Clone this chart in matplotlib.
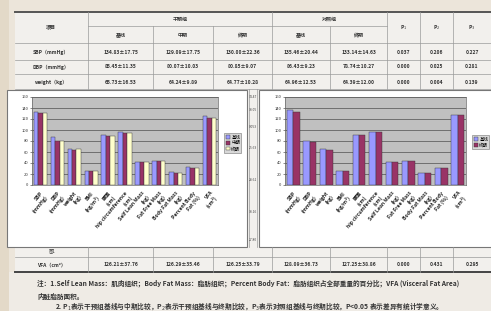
import numpy as np
import matplotlib
matplotlib.use('Agg')
import matplotlib.pyplot as plt
from matplotlib.patches import Rectangle

plt.rcParams['font.family'] = ['Noto Sans CJK SC', 'DejaVu Sans']

W, H = 491, 311

# table contents
col_edges = [15, 88, 153, 213, 272, 330, 387, 420, 453, 491]
groups = ['干预组', '对照组']
sub_heads = ['基线', '中期', '终期', '基线', '终期']
p_heads = ['P$_1$', 'P$_2$', 'P$_3$']
row_names = ['SBP（mmHg）', 'DBP（mmHg）', 'weight（kg）']
row_vals = [
    ['134.83±17.75', '129.09±17.75', '130.00±22.36', '135.46±20.44', '133.14±14.63', '0.037', '0.206', '0.227'],
    ['85.45±11.35', '80.07±10.03', '80.85±9.07', '86.43±9.23', '78.74±10.27', '0.000', '0.025', '0.281'],
    ['65.73±16.53', '64.24±9.89', '64.77±10.28', '64.96±12.53', '64.39±12.00', '0.000', '0.004', '0.139'],
]
vfa_name = 'VFA（cm²）'
vfa_vals = ['126.21±37.76', '126.29±35.46', '126.25±33.79', '128.09±36.73', '127.25±38.86', '0.000', '0.431', '0.295']
mid_nums = ['34.47', '38.05', '0.053', '25.63', '28.61', '38.16', '27.80']

# chart data
cats = ['SBP\n(mmHg)', 'DBP\n(mmHg)', 'weight\n(kg)', 'BMI\n(kg/m²)', '腰围\n(cm)',
        'hip circumference\n(cm)', 'Self Lean Mass\n(kg)', 'Fat Free Mass\n(kg)',
        'Body Fat Mass\n(kg)', 'Percent Body\nFat (%)', 'VFA\n(cm²)']
int_base = [133.5, 86.5, 65.7, 25.6, 91.2, 95.8, 42.5, 44.3, 23.1, 32.2, 126.2]
int_mid = [130.0, 80.1, 64.2, 25.1, 89.5, 94.6, 42.1, 43.9, 22.0, 31.1, 122.3]
int_end = [130.5, 80.9, 64.8, 25.3, 89.9, 94.9, 42.3, 44.1, 22.4, 31.4, 122.6]
ctl_base = [137.0, 80.5, 65.0, 25.8, 91.6, 96.9, 41.2, 44.5, 21.6, 30.8, 128.1]
ctl_end = [133.1, 79.0, 64.4, 25.6, 91.0, 96.5, 41.0, 44.2, 21.2, 30.4, 127.3]

notes = ['注：1.Self Lean Mass：肌肉组织；Body Fat Mass：脂肪组织；Percent Body Fat：脂肪组织占全部重量的百分比；VFA (Visceral Fat Area)',
         '内脏脂肪面积。',
         '2. P$_1$表示干预组基线与中期比较，P$_2$表示干预组基线与终期比较，P$_3$表示对照组基线与终期比较，P<0.05 表示差异有统计学意义。']

c_blue, c_red, c_cream = '#9999ff', '#993366', '#ffffcc'


def rect(x0, y0, x1, y1):
    return [x0 / W, 1 - y1 / H, (x1 - x0) / W, (y1 - y0) / H]


fig = plt.figure(figsize=(W / 100, H / 100), dpi=100)
fig.patch.set_facecolor('#ece5da')

bg = fig.add_axes([0, 0, 1, 1])
bg.set_xlim(0, W)
bg.set_ylim(H, 0)
bg.axis('off')
bg.add_patch(Rectangle((0, 0), 9, H, color='#e3d9c8', lw=0))
bg.add_patch(Rectangle((15, 12), W - 15, 260, color='#f2f0ed', lw=0))
bg.add_patch(Rectangle((9, 272), W - 9, 40, color='#efebe5', lw=0))

lc = '#9a9a9a'
tk = dict(fontsize=3.6, color='#333333', ha='center', va='center', fontweight='bold')
# table frame
bg.plot([15, W], [12, 12], color='#555555', lw=1.4)
bg.plot([88, 387], [26, 26], color=lc, lw=0.5)
for y in [43, 60, 74, 89, 257]:
    bg.plot([15, W], [y, y], color=lc, lw=0.5)
bg.plot([15, W], [272, 272], color='#444444', lw=1.4)
for x in col_edges[1:-1]:
    if x in (153, 213, 330):
        bg.plot([x, x], [26, 89], color=lc, lw=0.5)
    else:
        bg.plot([x, x], [12, 89], color=lc, lw=0.5)
    bg.plot([x, x], [247, 272], color=lc, lw=0.5)
bg.plot([249, 249], [89, 247], color=lc, lw=0.5)
bg.plot([257, 257], [89, 247], color=lc, lw=0.5)

bg.text(51, 27, '项目', **tk)
bg.text((88 + 272) / 2, 19, groups[0], **tk)
bg.text((272 + 387) / 2, 19, groups[1], **tk)
for i, s in enumerate(sub_heads):
    bg.text((col_edges[i + 1] + col_edges[i + 2]) / 2, 35, s, **tk)
for i, s in enumerate(p_heads):
    bg.text((col_edges[i + 6] + col_edges[i + 7]) / 2, 28, s, **tk)
for r, (name, vals) in enumerate(zip(row_names, row_vals)):
    y = 52 + r * 15
    bg.text(51, y, name, **tk)
    for i, v in enumerate(vals):
        bg.text((col_edges[i + 1] + col_edges[i + 2]) / 2, y, v, **tk)
bg.text(51, 265, vfa_name, **tk)
for i, v in enumerate(vfa_vals):
    bg.text((col_edges[i + 1] + col_edges[i + 2]) / 2, 265, v, **tk)
for y, s in zip([97, 110, 127, 148, 180, 212, 240], mid_nums):
    bg.text(253, y, s, fontsize=2.4, color='#444444', ha='center', va='center')
bg.text(52, 251, '图1', fontsize=3.2, color='#444444', ha='center', va='center')

nk = dict(fontsize=4.8, color='#333333', va='center', fontweight='bold')
bg.text(37, 283, notes[0], **nk)
bg.text(37, 296, notes[1], **nk)
bg.text(55, 306.5, notes[2], **nk)

# chart frames
bg.add_patch(Rectangle((7, 90), 240, 157, fc='white', ec='#777777', lw=0.8))
bg.add_patch(Rectangle((259, 90), 240, 157, fc='white', ec='#777777', lw=0.8))


def bar_chart(r, series, colors, labels, leg_xy):
    ax = fig.add_axes(r)
    ax.set_facecolor('#c0c0c0')
    x = np.arange(len(cats))
    n = len(series)
    w = 0.78 / n
    for k, (vals, c, lab) in enumerate(zip(series, colors, labels)):
        ax.bar(x + (k - (n - 1) / 2) * w, vals, w, color=c, edgecolor='#333333',
               linewidth=0.3, label=lab, zorder=3)
    ax.set_ylim(0, 160)
    ax.set_xlim(-0.5, len(cats) - 0.5)
    ax.set_yticks(np.arange(0, 161, 20))
    ax.yaxis.grid(True, color='#333333', lw=0.4, zorder=0)
    ax.set_xticks(x)
    ax.set_xticklabels(cats, rotation=50, ha='right', rotation_mode='anchor',
                       fontsize=3.7, fontweight='bold', color='#222222', linespacing=1.2)
    ax.tick_params(axis='y', labelsize=3.0, length=1.5, width=0.4, pad=1, colors='#333333')
    ax.tick_params(axis='x', length=0, pad=4)
    for s in ax.spines.values():
        s.set_color('#666666')
        s.set_linewidth(0.5)
    leg = ax.legend(loc='upper left', bbox_to_anchor=leg_xy, bbox_transform=fig.transFigure,
                    fontsize=3.2, frameon=True, fancybox=False, handlelength=1.0,
                    handleheight=0.8, borderpad=0.3, labelspacing=0.2, handletextpad=0.3)
    leg.get_frame().set_edgecolor('#555555')
    leg.get_frame().set_linewidth(0.4)
    leg.get_frame().set_facecolor('#cfcfcf')
    return ax


bar_chart(rect(32, 97, 218, 185), [int_base, int_mid, int_end], [c_blue, c_red, c_cream],
          sub_heads[:3], (222 / W, 1 - 131 / H))
bar_chart(rect(285, 97, 466, 185), [ctl_base, ctl_end], [c_blue, c_red],
          sub_heads[3:], (470 / W, 1 - 133 / H))

fig.savefig('out.png', dpi=100, facecolor=fig.get_facecolor())
